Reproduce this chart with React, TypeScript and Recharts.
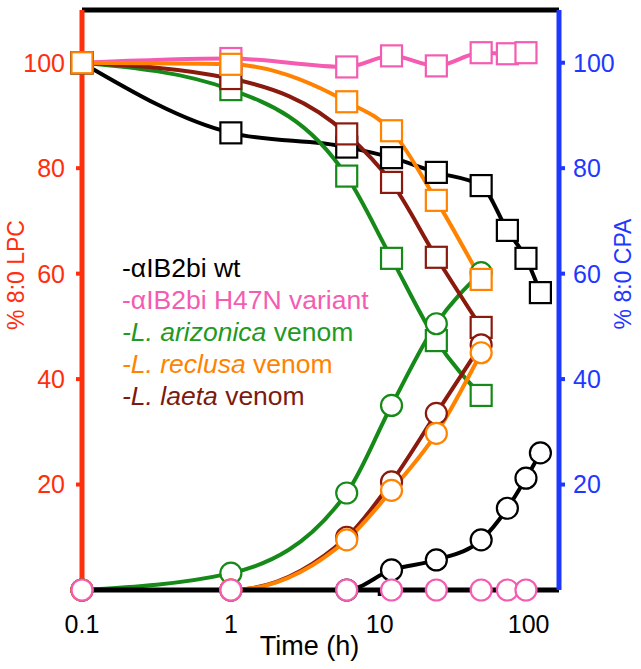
import {
  LineChart,
  Line,
  XAxis,
  YAxis,
  ReferenceLine,
} from 'recharts';

// time points (h); t = 0 is drawn at 0.1 on the log axis
const times = [0.1, 1, 6, 12, 24, 48, 72, 96, 120];

// % 8:0 LPC remaining (squares, left axis)
const wtLPC = [100, 86.7, 84.0, 82.0, 79.2, 76.7, 68.2, 62.9, 56.4];
const h47nLPC = [100, 100.8, 99.2, 101.3, 99.4, 101.9, 101.7, 101.9];
const arizonicaLPC = [100, 94.9, 78.5, 62.9, 47.3, 36.9];
const reclusaLPC = [100, 99.7, 92.6, 87.1, 73.9, 58.9];
const laetaLPC = [100, 97.0, 86.5, 77.3, 63.1, 49.8];

// % 8:0 CPA formed (circles, right axis)
const wtCPA = [0, 0, 0, 3.8, 5.7, 9.5, 15.5, 21.2, 26.0];
const h47nCPA = [0, 0, 0, 0, 0, 0, 0, 0];
const arizonicaCPA = [0, 3.2, 18.4, 35.0, 50.5, 60.2];
const reclusaCPA = [0, 0, 9.5, 18.9, 29.7, 45.0];
const laetaCPA = [0, 0, 10.0, 20.5, 33.5, 46.5];

const xTicks = [0.1, 1, 10, 100];
const yTicks = [20, 40, 60, 80, 100];

const BLACK = '#000000';
const PINK = '#f45cb2';
const GREEN = '#168a18';
const ORANGE = '#ff8300';
const DARKRED = '#8a1a0e';
const RED = '#ff2e0c';
const BLUE = '#1f38ff';

const FONT = '"Liberation Sans", Arial, Helvetica, sans-serif';

const data = times.map((t, i) => ({
  t,
  wtLPC: wtLPC[i] ?? null,
  h47nLPC: h47nLPC[i] ?? null,
  arizonicaLPC: arizonicaLPC[i] ?? null,
  reclusaLPC: reclusaLPC[i] ?? null,
  laetaLPC: laetaLPC[i] ?? null,
  wtCPA: wtCPA[i] ?? null,
  h47nCPA: h47nCPA[i] ?? null,
  arizonicaCPA: arizonicaCPA[i] ?? null,
  reclusaCPA: reclusaCPA[i] ?? null,
  laetaCPA: laetaCPA[i] ?? null,
}));

const squareDot = (color: string) => (props: any) => {
  const { cx, cy, index, value } = props;
  if (cx == null || cy == null || value == null) return <g key={`sq-${index}`} />;
  return (
    <rect
      key={`sq-${index}`}
      x={cx - 10.5}
      y={cy - 10.5}
      width={21}
      height={21}
      fill="#fff"
      stroke={color}
      strokeWidth={2.2}
    />
  );
};

const circleDot = (color: string) => (props: any) => {
  const { cx, cy, index, value } = props;
  if (cx == null || cy == null || value == null) return <g key={`ci-${index}`} />;
  return <circle key={`ci-${index}`} cx={cx} cy={cy} r={10.5} fill="#fff" stroke={color} strokeWidth={2.2} />;
};

const LeftTitle = (props: any) => {
  const vb = props.viewBox || { x: 0, y: 10, width: 82, height: 580 };
  const x = vb.x + 16;
  const y = vb.y + vb.height / 2 - 25;
  return (
    <text x={x} y={y} transform={`rotate(-90, ${x}, ${y})`} textAnchor="middle" dominantBaseline="central"
      fill={RED} fontSize={23} fontFamily={FONT}>
      % 8:0 LPC
    </text>
  );
};

const RightTitle = (props: any) => {
  const vb = props.viewBox || { x: 559, y: 10, width: 82, height: 580 };
  const x = vb.x + 64;
  const y = vb.y + vb.height / 2 - 26;
  return (
    <text x={x} y={y} transform={`rotate(-90, ${x}, ${y})`} textAnchor="middle" dominantBaseline="central"
      fill={BLUE} fontSize={23} fontFamily={FONT}>
      % 8:0 CPA
    </text>
  );
};

const XTitle = (props: any) => {
  const vb = props.viewBox || { x: 82, y: 590, width: 477, height: 79 };
  return (
    <text x={vb.x + vb.width / 2 - 11} y={vb.y + 65} textAnchor="middle" fill={BLACK} fontSize={27} fontFamily={FONT}>
      Time (h)
    </text>
  );
};

const legendRows = [
  { color: BLACK, italic: '', plain: '-αIB2bi wt' },
  { color: PINK, italic: '', plain: '-αIB2bi H47N variant' },
  { color: '#1f9a22', italic: 'L. arizonica', plain: ' venom' },
  { color: ORANGE, italic: 'L. reclusa', plain: ' venom' },
  { color: '#7c1a10', italic: 'L. laeta', plain: ' venom' },
];

export default function App() {
  const lineProps = {
    type: 'monotone' as const,
    strokeWidth: 4,
    isAnimationActive: false,
    activeDot: false,
    connectNulls: false,
  };

  return (
    <div style={{ position: 'absolute', left: 0, top: 0, width: 641, height: 669, background: '#fff' }}>
      <LineChart width={641} height={669} data={data} margin={{ top: 10, right: 0, bottom: 0, left: 0 }}>
        <XAxis
          dataKey="t"
          type="number"
          scale="log"
          domain={[0.1, 160]}
          ticks={xTicks}
          height={79}
          tickFormatter={(v) => String(v)}
          axisLine={{ stroke: BLACK, strokeWidth: 5 }}
          tickLine={{ stroke: BLACK, strokeWidth: 4 }}
          tickSize={6}
          tickMargin={19}
          tick={{ fill: BLACK, fontSize: 25, fontFamily: FONT }}
          label={<XTitle />}
        />
        <YAxis
          yAxisId="left"
          orientation="left"
          domain={[0, 110]}
          ticks={yTicks}
          width={82}
          axisLine={{ stroke: RED, strokeWidth: 5 }}
          tickLine={{ stroke: RED, strokeWidth: 4 }}
          tickSize={6}
          tickMargin={11}
          tick={{ fill: RED, fontSize: 25, fontFamily: FONT }}
          label={<LeftTitle />}
        />
        <YAxis
          yAxisId="right"
          orientation="right"
          domain={[0, 110]}
          ticks={yTicks}
          width={82}
          axisLine={{ stroke: BLUE, strokeWidth: 5 }}
          tickLine={{ stroke: BLUE, strokeWidth: 4 }}
          tickSize={6}
          tickMargin={8}
          tick={{ fill: BLUE, fontSize: 25, fontFamily: FONT }}
          label={<RightTitle />}
        />
        <ReferenceLine yAxisId="left" y={110} stroke={BLACK} strokeWidth={5} />

        <Line {...lineProps} yAxisId="left" dataKey="wtLPC" stroke={BLACK} dot={squareDot(BLACK)} />
        <Line {...lineProps} yAxisId="right" dataKey="wtCPA" stroke={BLACK} dot={circleDot(BLACK)} />
        <Line {...lineProps} yAxisId="left" dataKey="h47nLPC" stroke={PINK} dot={squareDot(PINK)} />
        <Line {...lineProps} yAxisId="left" dataKey="arizonicaLPC" stroke={GREEN} dot={squareDot(GREEN)} />
        <Line {...lineProps} yAxisId="right" dataKey="arizonicaCPA" stroke={GREEN} dot={circleDot(GREEN)} />
        <Line {...lineProps} yAxisId="left" dataKey="laetaLPC" stroke={DARKRED} dot={squareDot(DARKRED)} />
        <Line {...lineProps} yAxisId="right" dataKey="laetaCPA" stroke={DARKRED} dot={circleDot(DARKRED)} />
        <Line {...lineProps} yAxisId="left" dataKey="reclusaLPC" stroke={ORANGE} dot={squareDot(ORANGE)} />
        <Line {...lineProps} yAxisId="right" dataKey="reclusaCPA" stroke={ORANGE} dot={circleDot(ORANGE)} />
        <Line {...lineProps} yAxisId="right" dataKey="h47nCPA" stroke={PINK} dot={circleDot(PINK)} />
      </LineChart>

      <div style={{ position: 'absolute', left: 122, top: 252, fontFamily: FONT, fontSize: 26.5 }}>
        {legendRows.map((r) => (
          <div key={r.plain + r.italic} style={{ color: r.color, height: 32, lineHeight: '32px', whiteSpace: 'nowrap' }}>
            {r.italic ? (
              <>
                <i>-{r.italic}</i>
                {r.plain}
              </>
            ) : (
              r.plain
            )}
          </div>
        ))}
      </div>
    </div>
  );
}
